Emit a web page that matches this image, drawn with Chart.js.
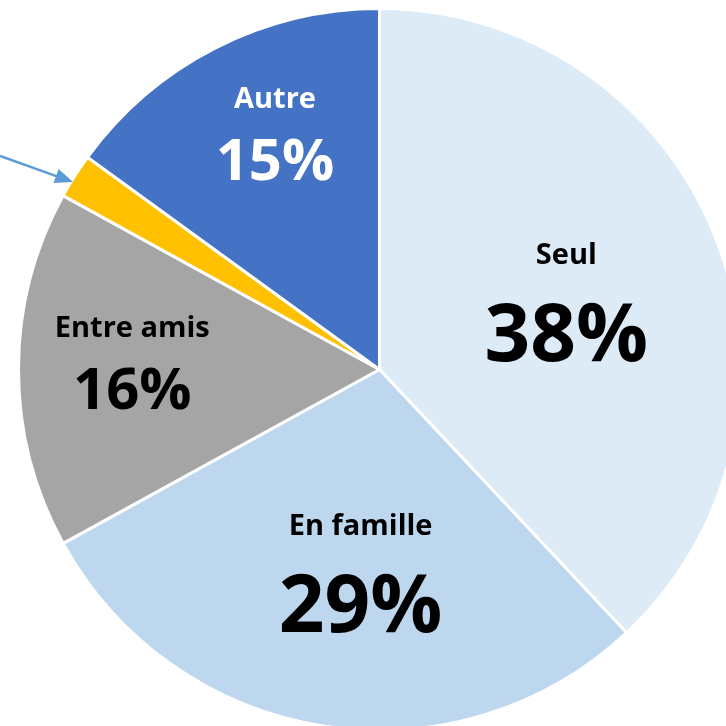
<!DOCTYPE html>
<html>
<head>
<meta charset="utf-8">
<script src="https://cdn.jsdelivr.net/npm/chart.js@4"></script>
<style>
  html, body { margin: 0; padding: 0; background: #fff; }
  #wrap { position: relative; width: 726px; height: 726px; overflow: hidden; }
  #wrap canvas { position: absolute; left: 0; top: 0; }
</style>
</head>
<body>
<div id="wrap"><canvas id="pie" width="760" height="760"></canvas></div>
<script>
// données
var categories = ['Seul', 'En famille', 'Entre amis', '', 'Autre'];
var valeurs = [38, 29, 16, 2, 15];
var etiquettes = ['38%', '29%', '16%', '', '15%'];
var couleurs = ['#DDEBF7', '#BDD7EE', '#A5A5A5', '#FFC000', '#4472C4'];

// placement des étiquettes (fraction du rayon, décalage d'angle en degrés)
var labelFrac = [0.54, 0.60, 0.685, 0, 0.685];
var labelShift = [5, -4, -1, 0, 2];
var grand = [true, true, false, false, false];

var labelsPlugin = {
    id: 'labels',
    afterDatasetsDraw: function(chart) {
        var ctx = chart.ctx;
        var meta = chart.getDatasetMeta(0);
        ctx.save();
        ctx.textAlign = 'center';
        ctx.textBaseline = 'alphabetic';
        meta.data.forEach(function(arc, i) {
            if (!categories[i]) return;
            var p = arc.getProps(['x', 'y', 'startAngle', 'endAngle', 'outerRadius'], true);
            var a = (p.startAngle + p.endAngle) / 2 + labelShift[i] * Math.PI / 180;
            var r = p.outerRadius * labelFrac[i];
            var x = p.x + Math.cos(a) * r;
            var y = p.y + Math.sin(a) * r;
            ctx.fillStyle = i === 4 ? '#FFFFFF' : '#000000';
            ctx.font = 'bold 29px "Open Sans"';
            ctx.fillText(categories[i], x, y - (grand[i] ? 50 : 37));
            ctx.font = grand[i] ? 'bold 80px "Open Sans"' : 'bold 58px "Open Sans"';
            ctx.fillText(etiquettes[i], x, y + (grand[i] ? 47 : 35));
        });

        // flèche vers la petite part
        ctx.strokeStyle = '#5B9BD5';
        ctx.fillStyle = '#5B9BD5';
        ctx.lineWidth = 2.5;
        var x0 = 0, y0 = 156, x1 = 73, y1 = 182;
        var ang = Math.atan2(y1 - y0, x1 - x0);
        ctx.beginPath();
        ctx.moveTo(x0, y0);
        ctx.lineTo(x1 - 14 * Math.cos(ang), y1 - 14 * Math.sin(ang));
        ctx.stroke();
        ctx.beginPath();
        ctx.moveTo(x1, y1);
        ctx.lineTo(x1 - 18 * Math.cos(ang) + 7.5 * Math.sin(ang), y1 - 18 * Math.sin(ang) - 7.5 * Math.cos(ang));
        ctx.lineTo(x1 - 18 * Math.cos(ang) - 7.5 * Math.sin(ang), y1 - 18 * Math.sin(ang) + 7.5 * Math.cos(ang));
        ctx.closePath();
        ctx.fill();
        ctx.restore();
    }
};

var ctx = document.getElementById('pie').getContext('2d');
var myChart = new Chart(ctx, {
    type: 'pie',
    data: {
        labels: categories,
        datasets: [{
            data: valeurs,
            backgroundColor: couleurs,
            borderColor: '#FFFFFF',
            borderWidth: 3,
            hoverOffset: 0
        }]
    },
    options: {
        responsive: false,
        animation: false,
        layout: { padding: { left: 17, top: 7, right: 18, bottom: 28 } },
        plugins: {
            legend: { display: false },
            tooltip: { enabled: false }
        }
    },
    plugins: [labelsPlugin]
});
</script>
</body>
</html>
